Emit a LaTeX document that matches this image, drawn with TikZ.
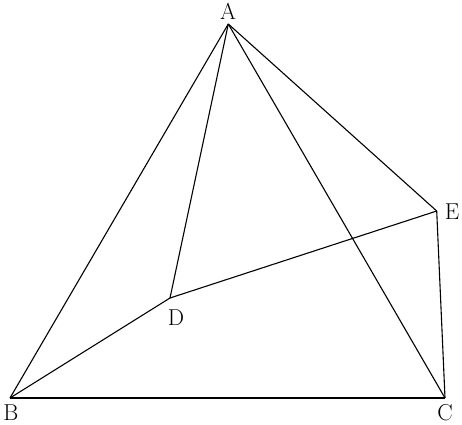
\documentclass[tikz,border=0pt]{standalone}
\usepackage{fontspec}
\begin{document}
\begin{tikzpicture}[x=1pt,y=1pt,
  edge/.style={line width=1.1pt, black},
  lbl/.style={font=\fontsize{23}{26}\selectfont, inner sep=0pt}]
\useasboundingbox (0,0) rectangle (462,424);
\coordinate (A) at (228.3,400);
\coordinate (B) at (10,26);
\coordinate (C) at (445,26);
\coordinate (D) at (170,126);
\coordinate (E) at (436.7,213);
\node[lbl] (la) at (228,413) {A};
\node[lbl] (lb) at (11,11.5) {B};
\node[lbl] (lc) at (445,11.5) {C};
\node[lbl] (ld) at (176,106) {D};
\node[lbl] (le) at (452,212) {E};
\draw[edge] (A) -- (B);
\draw[edge] (A) -- (C);
\draw[edge] (A) -- (D);
\draw[edge] (A) -- (E);
\draw[edge] (B) -- (C);
\draw[edge] (B) -- (D);
\draw[edge] (D) -- (E);
\draw[edge] (E) -- (C);
\end{tikzpicture}
\end{document}
